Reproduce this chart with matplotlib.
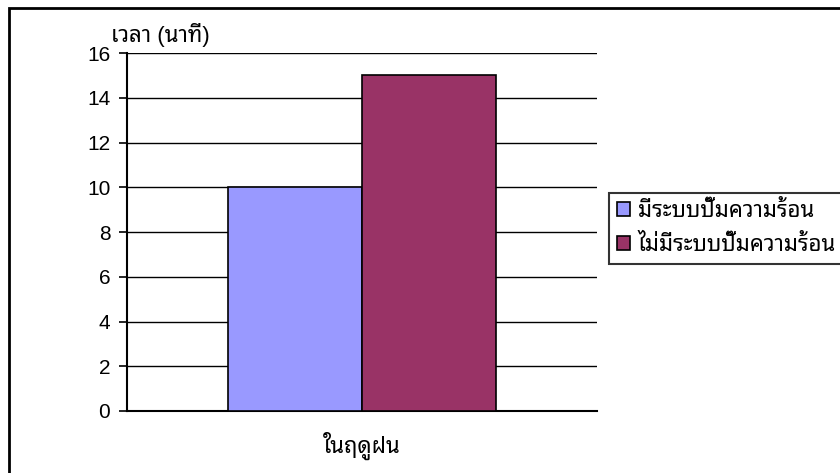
import matplotlib
matplotlib.use("Agg")
import matplotlib.pyplot as plt
import matplotlib.patches as mpatches
import numpy as np

plt.rcParams['font.family'] = ['Liberation Sans', 'Noto Sans Thai Looped', 'DejaVu Sans']

category = 'ในฤดูฝน'
series = ['มีระบบปั๊มความร้อน', 'ไม่มีระบบปั๊มความร้อน']
values = [10, 15]
colors = ['#9999ff', '#993366']
yticks = [0, 2, 4, 6, 8, 10, 12, 14, 16]
ylabel = 'เวลา (นาที)'

fig = plt.figure(figsize=(8.4, 4.73), dpi=100)

# outer chart border (only top/left visible in the crop)
fig.patches.append(mpatches.Rectangle((9 / 840, -0.1), 1.2, 1.1 - 8 / 473,
                                      transform=fig.transFigure, fill=False,
                                      edgecolor='black', linewidth=2))

ax = fig.add_axes([127 / 840, 1 - 411 / 473, 470 / 840, 358 / 473])

w = 0.285
x = np.array([-w / 2, w / 2])
for i in range(2):
    ax.bar(x[i], values[i], width=w, color=colors[i], edgecolor='black',
           linewidth=1.2, label=series[i], zorder=3)

ax.set_xlim(-0.5, 0.5)
ax.set_ylim(0, 16)
ax.set_yticks(yticks)
ax.yaxis.grid(True, color='black', linewidth=1, zorder=0)
ax.set_xticks([0])
ax.set_xticklabels([category], fontsize=16)
ax.tick_params(axis='x', length=0, pad=15)
ax.tick_params(axis='y', labelsize=15, length=6, width=1.2, pad=6)
for s in ['top', 'right']:
    ax.spines[s].set_visible(False)
ax.spines['left'].set_linewidth(1.5)
ax.spines['bottom'].set_linewidth(1.5)

fig.text(111 / 840, 1 - 35 / 473, ylabel, fontsize=16, va='center', ha='left')

leg = fig.legend(loc='upper left', bbox_to_anchor=(609 / 840, 1 - 193 / 473),
                 fontsize=16, frameon=True, fancybox=False, borderpad=0.35,
                 handlelength=0.6, handleheight=0.6, handletextpad=0.35,
                 labelspacing=0.6, borderaxespad=0)
leg.get_frame().set_edgecolor('black')
leg.get_frame().set_linewidth(1.5)

fig.savefig('out.png', dpi=100)
